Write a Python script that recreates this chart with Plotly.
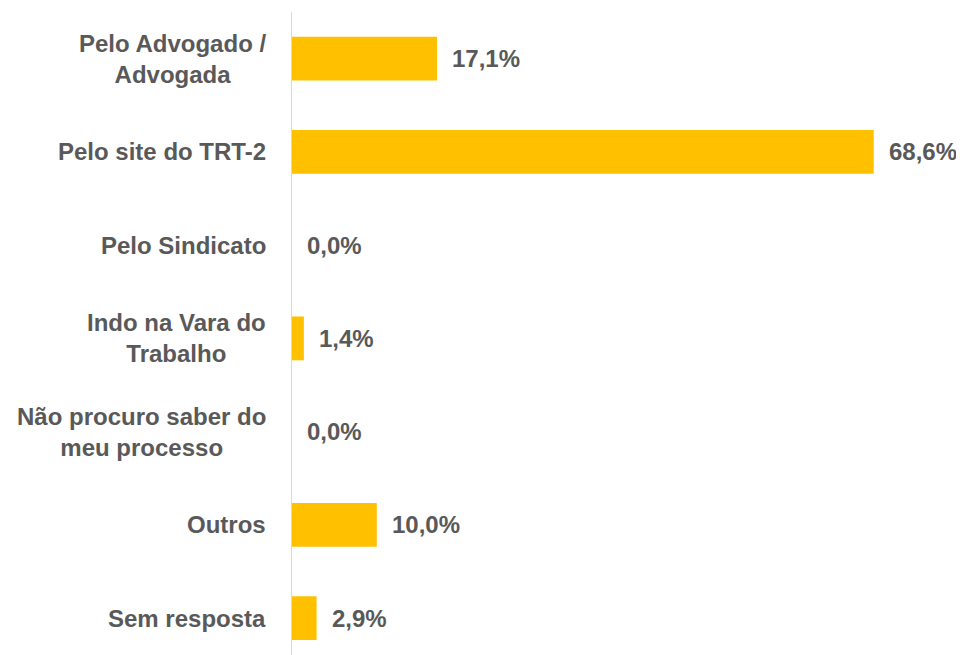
import plotly.graph_objects as go

categories = [
    "Pelo Advogado /<br>Advogada",
    "Pelo site do TRT-2",
    "Pelo Sindicato",
    "Indo na Vara do<br>Trabalho",
    "Não procuro saber do<br>meu processo",
    "Outros",
    "Sem resposta",
]
values = [17.1, 68.6, 0.0, 1.4, 0.0, 10.0, 2.9]

labels = [f"{v:.1f}%".replace(".", ",") for v in values]

FONT = "Liberation Sans"
GRAY = "#595959"

fig = go.Figure()
fig.add_trace(go.Bar(
    y=categories,
    x=values,
    orientation="h",
    marker=dict(color="#FFC000", line=dict(width=0)),
    width=0.47,
    hoverinfo="skip",
))

for c, v, t in zip(categories, values, labels):
    # value label
    fig.add_annotation(
        x=v, y=c, xref="x", yref="y",
        text=t, showarrow=False,
        xanchor="left", yanchor="middle", xshift=13,
        font=dict(family=FONT, size=24, color=GRAY, weight="bold"),
    )
    # category label (centered multi-line, like the reference)
    fig.add_annotation(
        x=0, y=c, xref="x", yref="y",
        text=c, showarrow=False, align="center",
        xanchor="right", yanchor="middle", xshift=-24,
        font=dict(family=FONT, size=24, color=GRAY, weight="bold"),
    )

fig.update_layout(
    width=956, height=647,
    margin=dict(l=284, r=36, t=4, b=0),
    paper_bgcolor="white",
    plot_bgcolor="white",
    showlegend=False,
    font=dict(family=FONT, size=24, color=GRAY),
)
fig.update_xaxes(
    range=[0, 75], visible=False, showgrid=False, zeroline=False,
)
fig.update_yaxes(
    categoryorder="array", categoryarray=categories,
    range=[6.395, -0.5],
    automargin=False,
    showgrid=False, zeroline=False,
    showline=True, linecolor="#D9D9D9", linewidth=1,
    ticks="", showticklabels=False,
)

fig.write_html("out.html")
